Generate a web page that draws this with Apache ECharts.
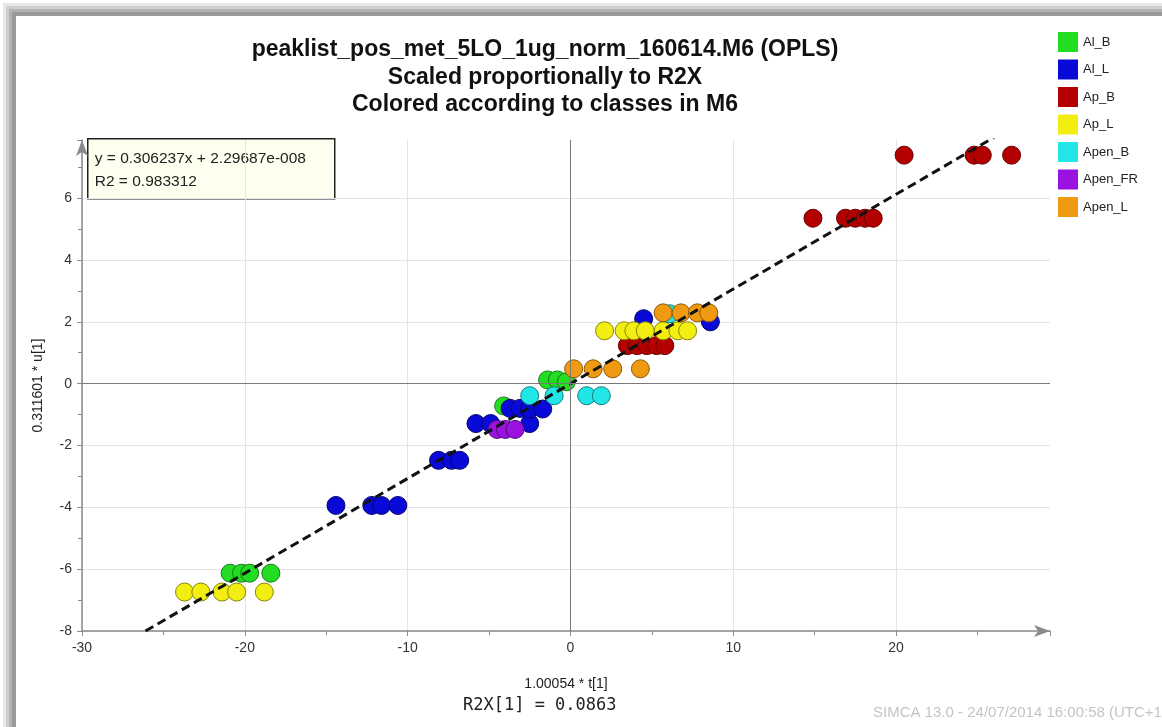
<!DOCTYPE html>
<html>
<head>
<meta charset="utf-8">
<script src="https://cdn.jsdelivr.net/npm/echarts@6/dist/echarts.min.js"></script>
<style>
  html, body { margin: 0; padding: 0; background: #fff; }
  #chart { width: 1162px; height: 727px; }
</style>
</head>
<body>
<div id="chart"></div>
<script>
// class names, in legend order
const classNames = ['Al_B', 'Al_L', 'Ap_B', 'Ap_L', 'Apen_B', 'Apen_FR', 'Apen_L'];
const classColors = ['#22dd22', '#0a0ad8', '#b30000', '#f2ee12', '#22e6e6', '#9b12e0', '#f09a12'];
const classBorders = ['#1a7a1a', '#05056e', '#6a0000', '#8a8400', '#128080', '#50087a', '#8a5a08'];

// [t, u]
const alB = [[-20.9, -6.13], [-20.2, -6.13], [-19.7, -6.13], [-18.4, -6.13], [-4.1, -0.72], [-1.4, 0.12], [-0.8, 0.12], [-0.25, 0.06]];
const alL = [[-14.4, -3.94], [-12.2, -3.94], [-11.6, -3.94], [-10.6, -3.94], [-8.1, -2.48], [-7.3, -2.48], [-6.8, -2.48],
  [-5.8, -1.29], [-4.9, -1.29], [-2.5, -1.29], [-3.7, -0.8], [-3.1, -0.8], [-2.5, -0.82], [-1.7, -0.82], [4.5, 2.1], [8.6, 2.0]];
const apB = [[3.5, 1.23], [4.1, 1.23], [4.7, 1.23], [5.3, 1.23], [5.8, 1.23], [14.9, 5.35], [16.9, 5.35], [17.5, 5.35],
  [18.1, 5.35], [18.6, 5.35], [20.5, 7.39], [24.8, 7.39], [25.3, 7.39], [27.1, 7.39]];
const apL = [[-23.7, -6.74], [-22.7, -6.74], [-21.4, -6.74], [-20.5, -6.74], [-18.8, -6.74], [2.1, 1.71], [3.3, 1.71],
  [3.9, 1.71], [4.6, 1.71], [5.7, 1.71], [6.6, 1.71], [7.2, 1.71]];
const apenB = [[-2.5, -0.39], [-1.0, -0.39], [1.0, -0.39], [1.9, -0.39], [6.1, 2.26]];
const apenFR = [[-4.5, -1.48], [-4.0, -1.48], [-3.4, -1.48]];
const apenL = [[0.2, 0.48], [1.4, 0.48], [2.6, 0.48], [4.3, 0.48], [5.7, 2.29], [6.8, 2.29], [7.8, 2.29], [8.5, 2.29]];
const classData = [alB, alL, apB, apL, apenB, apenFR, apenL];

// regression line ends, as drawn
const fitLine = [[-26.1, -8.0], [26.1, 7.99]];
const fitText = ['y = 0.306237x + 2.29687e-008', 'R2 = 0.983312'];

const titleLines = [
  'peaklist_pos_met_5LO_1ug_norm_160614.M6 (OPLS)',
  'Scaled proportionally to R2X',
  'Colored according to classes in M6'
];

const chart = echarts.init(document.getElementById('chart'));

const series = classNames.map((name, i) => ({
  name,
  type: 'scatter',
  symbolSize: 18,
  itemStyle: {
    color: classColors[i],
    borderColor: classBorders[i],
    borderWidth: 1,
    opacity: 1
  },
  data: classData[i],
  z: 3
}));

series.unshift({
  name: 'zero',
  type: 'line',
  data: [],
  silent: true,
  z: 1,
  markLine: {
    silent: true,
    symbol: 'none',
    label: { show: false },
    lineStyle: { color: '#7a7a7a', width: 1, type: 'solid' },
    data: [{ xAxis: 0 }, { yAxis: 0 }]
  }
});

series.push({
  name: 'fit',
  type: 'line',
  data: fitLine,
  showSymbol: false,
  silent: true,
  lineStyle: { color: '#111', width: 3, type: [9, 5] },
  z: 4
});

// soft grey window edge
const frame = [[14, 4, '#9a9a9a'], [10.5, 3, '#b2b2b2'], [7.5, 3, '#cfcfcf'], [4.5, 3, '#e8e8e8']].map(f => ({
  type: 'rect',
  z: -10,
  silent: true,
  shape: { x: f[0], y: f[0], width: 1300, height: 900 },
  style: { fill: 'none', stroke: f[2], lineWidth: f[1] }
}));

chart.setOption({
  animation: false,
  backgroundColor: '#fff',
  textStyle: { fontFamily: 'Liberation Sans, Arial, sans-serif' },
  title: {
    text: titleLines.join('\n'),
    left: 540,
    top: 31,
    textAlign: 'center',
    textStyle: {
      fontSize: 23,
      fontWeight: 'bold',
      color: '#111',
      lineHeight: 27.5
    }
  },
  legend: {
    data: classNames,
    orient: 'vertical',
    left: 1058,
    top: 32,
    padding: 0,
    itemWidth: 20,
    itemHeight: 20,
    itemGap: 7.5,
    icon: 'rect',
    itemStyle: { borderWidth: 0 },
    textStyle: { fontSize: 13, color: '#222' }
  },
  grid: { left: 82, top: 140, width: 968, height: 491, containLabel: false },
  xAxis: {
    type: 'value',
    min: -30,
    max: 29.46,
    interval: 10,
    name: '1.00054 * t[1]',
    nameLocation: 'middle',
    nameGap: 46,
    nameTextStyle: { fontSize: 14, color: '#222' },
    axisLine: {
      onZero: false,
      lineStyle: { color: '#8a8a8a', width: 1.5 },
      symbol: ['none', 'arrow'],
      symbolSize: [9, 16]
    },
    axisTick: { length: 5, lineStyle: { color: '#8a8a8a' } },
    minorTick: { show: true, splitNumber: 2, length: 4, lineStyle: { color: '#8a8a8a' } },
    splitLine: { show: true, showMaxLine: false, lineStyle: { color: '#e4e4e4' } },
    axisLabel: { showMaxLabel: false, fontSize: 14, color: '#333', margin: 10 }
  },
  yAxis: {
    type: 'value',
    min: -8,
    max: 7.88,
    interval: 2,
    name: '0.311601 * u[1]',
    nameLocation: 'middle',
    nameGap: 37,
    nameTextStyle: { fontSize: 14, color: '#222' },
    axisLine: {
      onZero: false,
      lineStyle: { color: '#8a8a8a', width: 1.5 },
      symbol: ['none', 'arrow'],
      symbolSize: [9, 16]
    },
    axisTick: { length: 5, lineStyle: { color: '#8a8a8a' } },
    minorTick: { show: true, splitNumber: 2, length: 4, lineStyle: { color: '#8a8a8a' } },
    splitLine: { show: true, showMaxLine: false, lineStyle: { color: '#e4e4e4' } },
    axisLabel: { showMaxLabel: false, fontSize: 14, color: '#333', margin: 10 }
  },
  graphic: frame.concat([
    {
      type: 'group',
      left: 87,
      top: 138,
      z: 10,
      children: [
        {
          type: 'rect',
          shape: { x: 0, y: 0, width: 247, height: 60 },
          style: { fill: '#fffff0', stroke: '#222', lineWidth: 1.5 }
        },
        {
          type: 'text',
          x: 7, y: 20,
          style: { text: fitText[0], fontSize: 15.5, fill: '#222', verticalAlign: 'middle', fontFamily: 'Liberation Sans, Arial, sans-serif' }
        },
        {
          type: 'text',
          x: 7, y: 43,
          style: { text: fitText[1], fontSize: 15.5, fill: '#222', verticalAlign: 'middle', fontFamily: 'Liberation Sans, Arial, sans-serif' }
        }
      ]
    },
    {
      type: 'text',
      left: 463,
      top: 697,
      style: { text: 'R2X[1] = 0.0863', fontSize: 17, fill: '#222', fontFamily: 'DejaVu Sans Mono, monospace' }
    },
    {
      type: 'text',
      left: 873,
      top: 705,
      style: { text: 'SIMCA 13.0 - 24/07/2014 16:00:58 (UTC+1)', fontSize: 15, fill: '#c4c4c4', fontFamily: 'Liberation Sans, Arial, sans-serif' }
    }
  ]),
  series
});
</script>
</body>
</html>
